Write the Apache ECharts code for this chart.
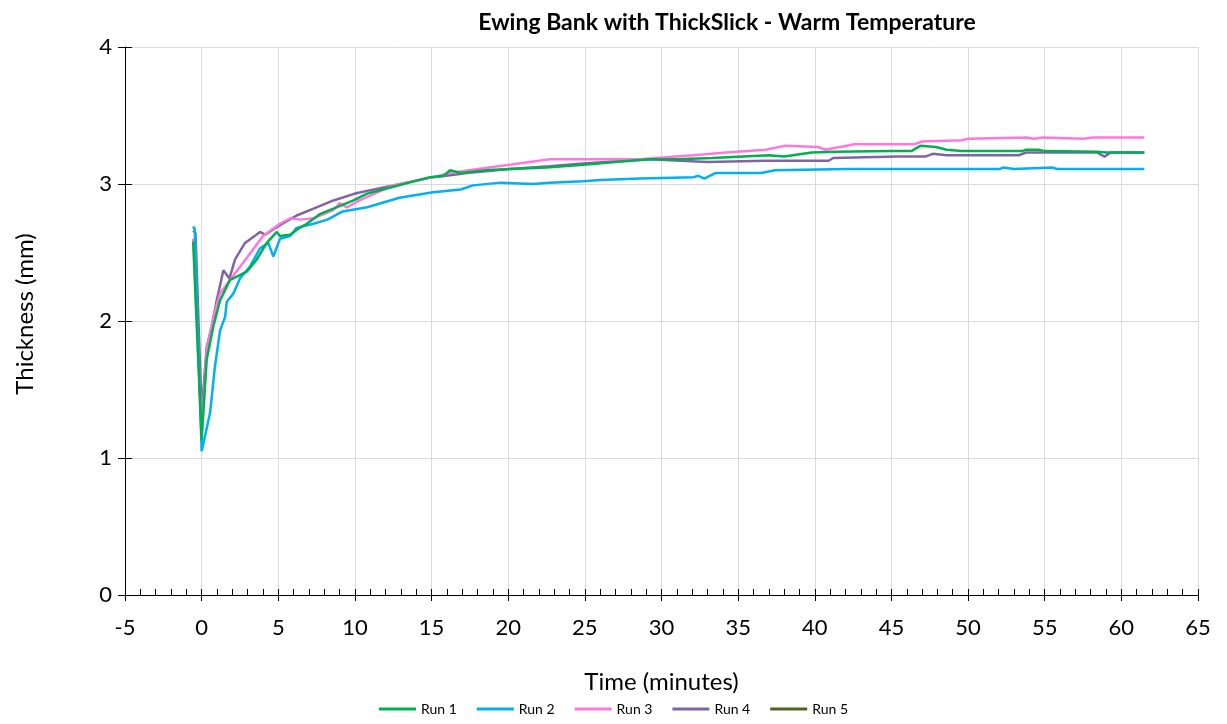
<!DOCTYPE html>
<html>
<head>
<meta charset="utf-8">
<script src="https://cdn.jsdelivr.net/npm/echarts@6/dist/echarts.min.js"></script>
<style>html,body{margin:0;padding:0;background:#fff}#c{width:1227px;height:724px}</style>
</head>
<body>
<div id="c"></div>
<script>
const titleText = 'Ewing Bank with ThickSlick - Warm Temperature';
const xName = 'Time (minutes)';
const yName = 'Thickness (mm)';
const seriesNames = ['Run 1', 'Run 2', 'Run 3', 'Run 4', 'Run 5'];
const seriesColors = ['#00b050', '#00b0f0', '#ff77dd', '#8064a2', '#4f6228'];

const run1 = [[-0.55,2.58],[0,1.13],[0.33,1.72],[0.76,1.96],[1.2,2.15],[1.85,2.30],[2.4,2.33],[2.94,2.36],[3.6,2.45],[4.25,2.57],[4.9,2.65],[5.11,2.62],[5.77,2.63],[6.4,2.68],[6.86,2.71],[7.7,2.78],[8.6,2.82],[9.9,2.88],[10.8,2.93],[12.5,2.98],[14.9,3.05],[15.8,3.06],[16.2,3.10],[16.9,3.08],[18.5,3.10],[20.1,3.11],[22.5,3.12],[24.9,3.14],[27,3.16],[29.2,3.18],[31,3.18],[33.3,3.19],[37.0,3.21],[38,3.20],[39.8,3.23],[41.4,3.235],[44.9,3.24],[46.3,3.24],[46.9,3.28],[47.9,3.27],[48.6,3.25],[49.6,3.24],[53.5,3.24],[53.8,3.25],[54.6,3.25],[55,3.24],[58.4,3.235],[59,3.23],[61.5,3.23]];
const run2 = [[-0.55,2.69],[-0.45,2.67],[0,1.05],[0.22,1.16],[0.55,1.33],[0.87,1.67],[1.2,1.93],[1.53,2.03],[1.64,2.14],[2.07,2.20],[2.5,2.31],[3.16,2.40],[3.81,2.53],[4.35,2.57],[4.68,2.47],[5.11,2.60],[5.77,2.62],[6.2,2.68],[7.3,2.71],[8.2,2.74],[9.2,2.80],[10.8,2.83],[12.9,2.90],[15.1,2.94],[16.9,2.96],[17.7,2.99],[19.5,3.01],[21.6,3.00],[22.7,3.01],[24.9,3.02],[26.0,3.03],[28.6,3.04],[32.1,3.05],[32.4,3.06],[32.8,3.04],[33.5,3.08],[36.5,3.08],[37.4,3.10],[42.1,3.11],[52.1,3.11],[52.3,3.12],[53,3.11],[55.5,3.12],[55.8,3.11],[61.5,3.11]];
const run3 = [[-0.55,2.60],[0,1.20],[0.33,1.79],[0.76,2.03],[1.2,2.20],[1.85,2.30],[2.94,2.46],[4.0,2.62],[5.11,2.71],[5.77,2.75],[6.4,2.74],[7.3,2.75],[8.6,2.81],[9.0,2.86],[9.47,2.83],[10.3,2.88],[12.5,2.99],[15.1,3.05],[16.2,3.08],[18,3.11],[20.1,3.14],[22.7,3.18],[26,3.18],[28.6,3.18],[30.9,3.20],[32.1,3.21],[34.2,3.23],[36.8,3.25],[38.1,3.28],[40.2,3.27],[40.7,3.25],[42.6,3.29],[46.5,3.29],[47.0,3.31],[49.6,3.32],[50.0,3.33],[53.8,3.34],[54.3,3.33],[54.9,3.34],[57.5,3.33],[58.2,3.34],[61.5,3.34]];
const run4 = [[-0.55,2.66],[-0.4,2.64],[0,1.33],[0.33,1.81],[0.66,1.96],[0.98,2.15],[1.42,2.37],[1.81,2.31],[2.18,2.45],[2.83,2.57],[3.81,2.65],[4.14,2.63],[5.11,2.70],[6.2,2.77],[7.3,2.82],[8.6,2.88],[10,2.93],[12.5,2.99],[15.1,3.05],[16.6,3.07],[17.3,3.08],[20.1,3.11],[22.7,3.13],[24.9,3.15],[29.2,3.18],[33,3.16],[36.8,3.17],[40.9,3.17],[41.2,3.19],[45.4,3.20],[47.2,3.20],[47.7,3.22],[48.6,3.21],[53.3,3.21],[53.8,3.23],[58.4,3.23],[58.9,3.20],[59.3,3.23],[61.5,3.23]];
const run5 = [];
const seriesData = [run1, run2, run3, run4, run5];

const FONT = 'Lato, "Liberation Sans", sans-serif';
const chart = echarts.init(document.getElementById('c'));
const xBase = { type: 'value', min: -5, max: 65, interval: 5 };
const yBase = { type: 'value', min: 0, max: 4, interval: 1, position: 'left' };
chart.setOption({
  animation: false,
  textStyle: { fontFamily: FONT },
  title: {
    text: titleText, left: 722, top: 6, textAlign: 'center',
    textStyle: { fontSize: 23, fontWeight: 'bold', color: '#000', fontFamily: FONT }
  },
  legend: {
    bottom: 3, left: 'center', icon: 'rect', itemWidth: 37, itemHeight: 3, itemGap: 20,
    textStyle: { fontSize: 14, color: '#000', fontFamily: FONT },
    data: seriesNames
  },
  grid: { left: 125, right: 29, top: 47, bottom: 129, containLabel: false },
  xAxis: [
    Object.assign({}, xBase, {
      name: xName, nameLocation: 'middle', nameGap: 75,
      nameTextStyle: { fontSize: 24, color: '#000', fontFamily: FONT },
      axisLine: { show: true, onZero: false, lineStyle: { color: '#000', width: 1 } },
      axisTick: { show: true, inside: true, length: 6, lineStyle: { color: '#000' } },
      minorTick: { show: true, splitNumber: 5, length: 6, lineStyle: { color: '#000' } },
      axisLabel: { fontSize: 22, color: '#000', margin: 22, fontFamily: FONT },
      splitLine: { show: true, lineStyle: { color: '#d9d9d9', width: 1 } }
    }),
    Object.assign({}, xBase, {
      position: 'bottom',
      axisLine: { show: false, onZero: false },
      axisTick: { show: true, inside: false, length: 6, lineStyle: { color: '#000' } },
      axisLabel: { show: false },
      splitLine: { show: false }
    })
  ],
  yAxis: [
    Object.assign({}, yBase, {
      name: yName, nameLocation: 'middle', nameGap: 88, nameRotate: 90,
      nameTextStyle: { fontSize: 24, color: '#000', fontFamily: FONT, padding: [0, 0, 0, 14] },
      axisLine: { show: true, onZero: false, lineStyle: { color: '#000', width: 1 } },
      axisTick: { show: true, inside: false, length: 7, lineStyle: { color: '#000' } },
      axisLabel: { fontSize: 22, color: '#000', margin: 13, fontFamily: FONT },
      splitLine: { show: true, lineStyle: { color: '#d9d9d9', width: 1 } }
    }),
    Object.assign({}, yBase, {
      axisLine: { show: false, onZero: false },
      axisTick: { show: true, inside: true, length: 7, lineStyle: { color: '#000' } },
      axisLabel: { show: false },
      splitLine: { show: false }
    })
  ],
  series: seriesNames.map((n, i) => ({
    name: n, type: 'line', xAxisIndex: 0, yAxisIndex: 0, data: seriesData[i],
    showSymbol: false, symbol: 'none',
    lineStyle: { color: seriesColors[i], width: 2.5 },
    itemStyle: { color: seriesColors[i] },
    z: 5 - i
  }))
});
</script>
</body>
</html>
